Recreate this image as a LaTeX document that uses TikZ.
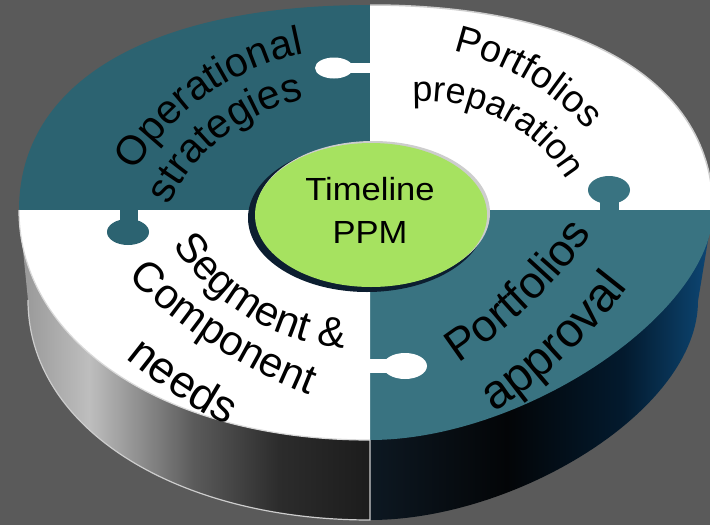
\documentclass[tikz,border=0pt]{standalone}
\usepackage{fontspec}
\setmainfont{Liberation Sans}
\usetikzlibrary{decorations.text}
\definecolor{bggray}{RGB}{90,90,90}
\definecolor{tealdark}{RGB}{44,99,113}
\definecolor{teallight}{RGB}{57,115,129}
\definecolor{hubgreen}{RGB}{166,226,96}
\definecolor{rimgray}{RGB}{205,205,205}
\definecolor{rimnavy}{RGB}{12,30,48}
\definecolor{wallA}{RGB}{150,150,150}
\definecolor{wallB}{RGB}{190,190,190}
\definecolor{wallC}{RGB}{90,90,90}
\definecolor{wallD}{RGB}{44,44,44}
\definecolor{wallE}{RGB}{28,28,28}
\definecolor{navyA}{RGB}{13,24,34}
\definecolor{navyB}{RGB}{3,5,7}
\definecolor{navyC}{RGB}{3,26,46}
\definecolor{navyD}{RGB}{10,58,96}
\definecolor{navyE}{RGB}{14,72,120}
\pgfdeclarehorizontalshading{wallleft}{100bp}{color(0bp)=(wallA); color(25bp)=(wallA); color(35bp)=(wallB); color(50bp)=(wallC); color(62bp)=(wallD); color(75bp)=(wallE); color(100bp)=(wallE)}
\pgfdeclarehorizontalshading{wallright}{100bp}{color(0bp)=(navyA); color(25bp)=(navyA); color(45bp)=(navyB); color(62bp)=(navyC); color(71bp)=(navyD); color(75bp)=(navyE); color(100bp)=(navyE)}
\tikzset{arctext/.style 2 args={decorate, decoration={text along path, text align=center, text={|\fontsize{#1}{#1}\selectfont|#2}}}}

\begin{document}
\begin{tikzpicture}[x=1pt,y=1pt]
\useasboundingbox (0,0) rectangle (710,-525);
\clip (0,0) rectangle (710,-525);
\fill[bggray] (0,0) rectangle (710,-525);%background

\shade[shading=wallleft] (19,-210) -- (28,-300) .. controls (28,-428) and (176,-520) .. (370,-520) -- (370,-210) -- cycle;%left wall
\shade[shading=wallright] (370,-520) .. controls (516,-520) and (698,-410) .. (698,-301) -- (713,-210) -- (370,-210) -- cycle;%right wall
\draw[rimgray, line width=1.2] (28,-300) .. controls (28,-428) and (176,-520) .. (370,-520) -- (370,-440);%wall edge

\fill[tealdark] (370,-210) -- (19,-210) .. controls (19,-82) and (150,-5) .. (370,-5) -- cycle;%top left
\fill[white] (370,-210) -- (370,-5) .. controls (583,-5) and (713,-83) .. (713,-210) -- cycle;%top right
\fill[teallight] (370,-210) -- (713,-210) .. controls (713,-313) and (524,-440) .. (370,-440) -- cycle;%bottom right
\fill[white] (370,-210) -- (370,-440) .. controls (166,-440) and (19,-343) .. (19,-210) -- cycle;%bottom left
\draw[rimgray, line width=1.5] (370,-5) .. controls (583,-5) and (713,-83) .. (713,-210);%rim
\draw[white!85!black, line width=1.2] (370,-440) .. controls (166,-440) and (19,-343) .. (19,-210);%rim

\fill[white] (350,-62.5) rectangle (371,-73);%knobs
\fill[white] (334,-68) ellipse (19pt and 10.5pt);
\fill[teallight] (600,-198) rectangle (619,-211);
\fill[teallight] (609,-190) ellipse (21pt and 14pt);
\fill[tealdark] (120,-209) rectangle (138,-221);
\fill[tealdark] (128,-232) ellipse (21pt and 13pt);
\fill[white] (369,-359) rectangle (388,-373);
\fill[white] (405,-366) ellipse (22pt and 13pt);

\fill[rimnavy] (367,-218) ellipse (119pt and 74pt);%hub
\fill[rimgray] (373,-213) ellipse (117pt and 72pt);
\fill[hubgreen] (371,-215) ellipse (116pt and 72pt);
\node[font=\fontsize{32}{43}\selectfont, align=center, xscale=1.08, transform shape] (hub) at (370,-210) {Timeline\\PPM};

\path[arctext={41pt}{Operational}] (354,-305) ++(170:256pt) arc[start angle=170, end angle=80, radius=256pt];
\path[arctext={41pt}{strategies}] (346,-293) ++(173:198pt) arc[start angle=173, end angle=83, radius=198pt];
\path[arctext={38pt}{Portfolios}] (394,-305) ++(105:261pt) arc[start angle=105, end angle=14, radius=261pt];
\path[arctext={36pt}{preparation}] (425,-268) ++(108:167pt) arc[start angle=108, end angle=18, radius=167pt];
\path[arctext={42pt}{Segment {\&}}] (363,-123) ++(194:226pt) arc[start angle=194, end angle=284, radius=226pt];
\path[arctext={42pt}{Component}] (505,105) ++(217:537pt) arc[start angle=217, end angle=257, radius=537pt];
\path[arctext={45pt}{needs}] (505,105) ++(221.5:599pt) arc[start angle=221.5, end angle=251.5, radius=599pt];
\path[arctext={45pt}{Portfolios}] (174,65) ++(-66:514pt) arc[start angle=-66, end angle=-26, radius=514pt];
\path[arctext={48pt}{approval}] (174,65) ++(-67:575pt) arc[start angle=-67, end angle=-27, radius=575pt];
\end{tikzpicture}
\end{document}
